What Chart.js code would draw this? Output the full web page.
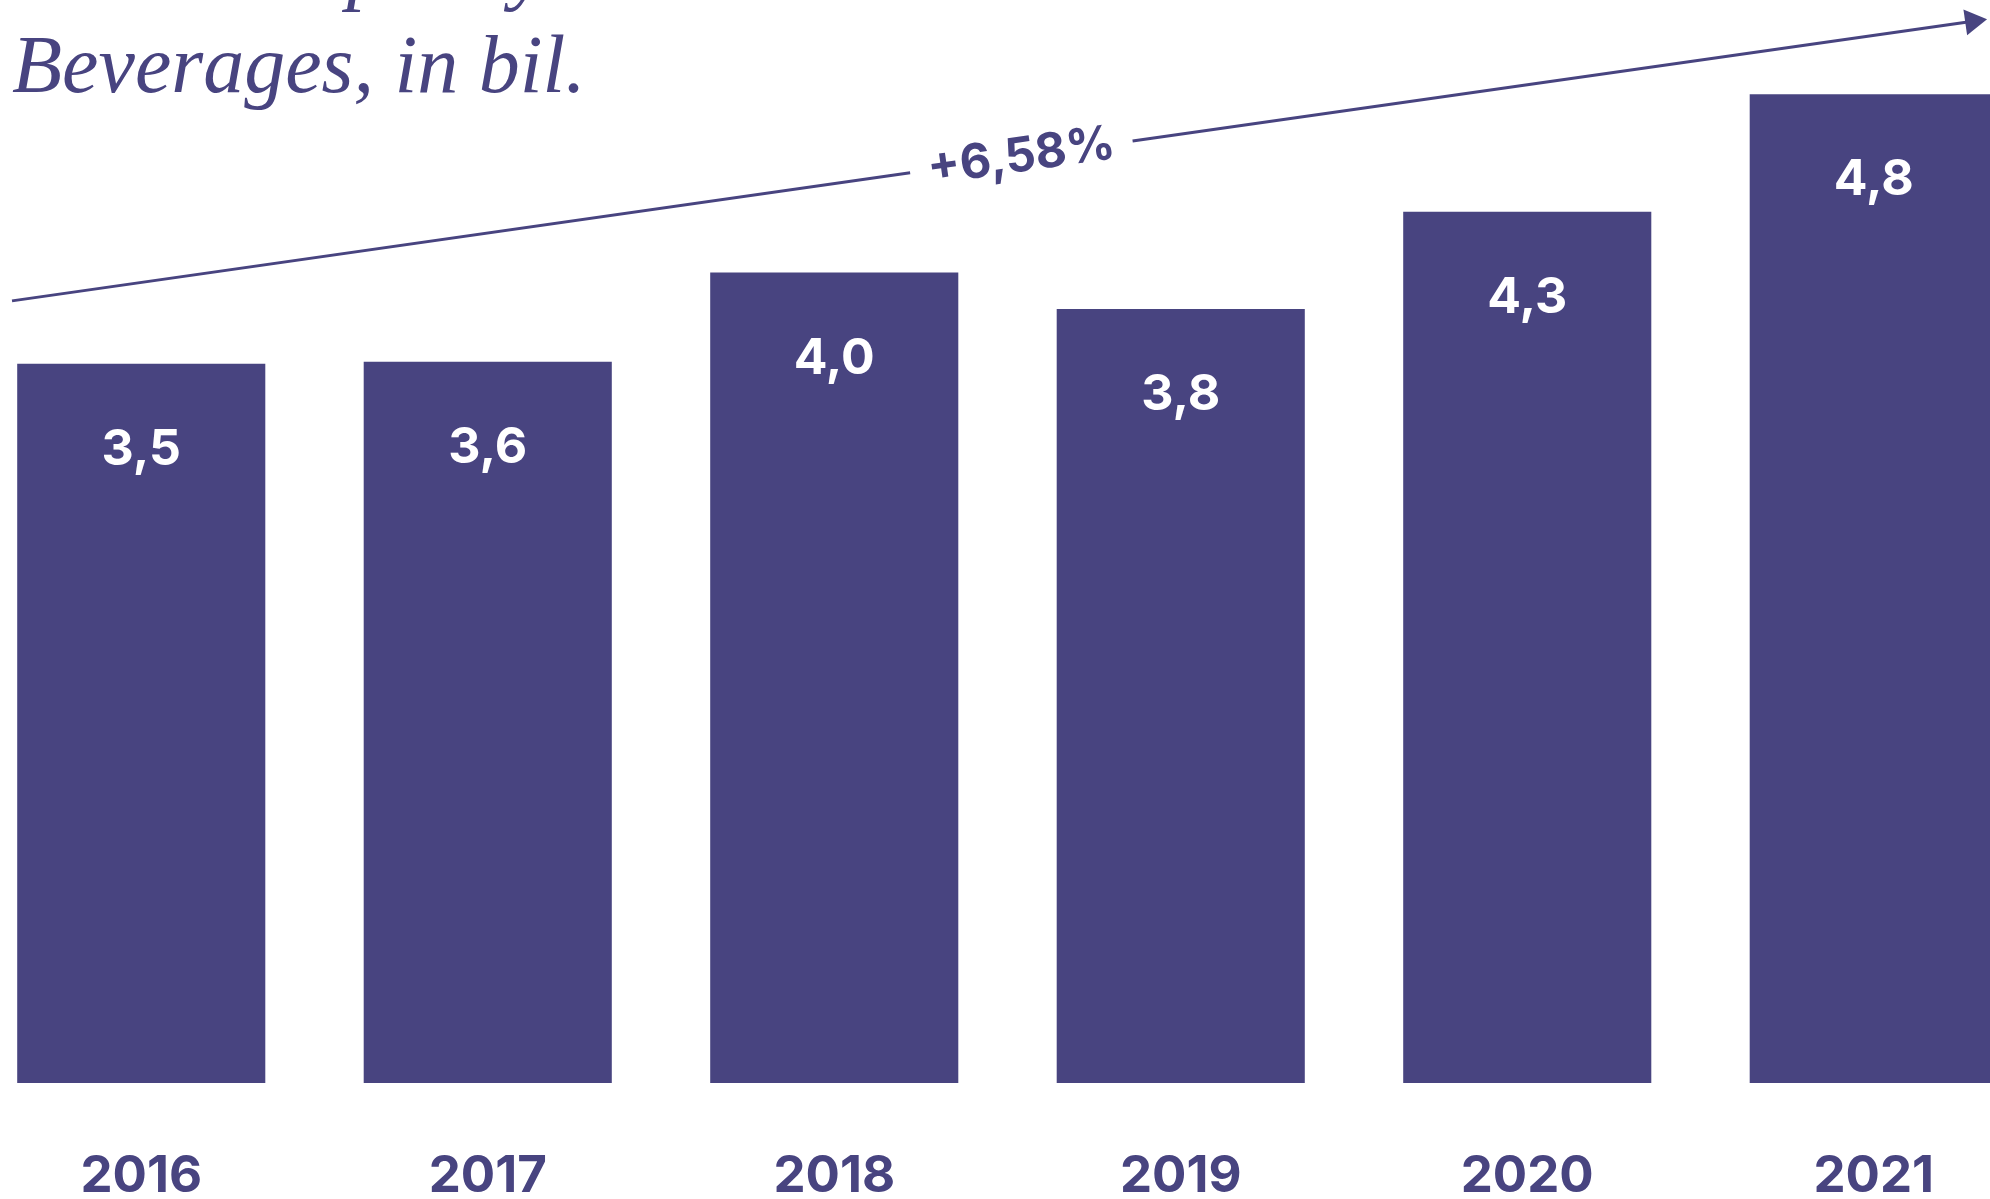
<!DOCTYPE html>
<html lang="en">
<head>
    <meta charset="UTF-8">
    <title>Beverages, in bil.</title>
    <script src="https://cdn.jsdelivr.net/npm/chart.js"></script>
    <style>
        html, body { margin: 0; padding: 0; background: #fff; overflow: hidden; }
        body { width: 1990px; height: 1199px; position: relative; }
        .title {
            position: absolute; left: 12px; white-space: nowrap;
            font-family: "Liberation Serif", serif; font-style: italic;
            font-size: 82px; line-height: 1; color: #484480;
        }
        #chartBox { position: absolute; left: -32px; top: 0; width: 2079px; height: 1270px; }
    </style>
</head>
<body>
    <div class="title" style="top:-74px">Market capacity</div>
    <div class="title" style="top:24px">Beverages, in bil.</div>
    <div id="chartBox"><canvas id="bevChart"></canvas></div>

    <script>
        const years = ['2016', '2017', '2018', '2019', '2020', '2021'];
        // bar heights as drawn (labels are the rounded figures)
        const capacity = [3.55, 3.56, 4.0, 3.82, 4.3, 4.88];
        const valueLabels = ['3,5', '3,6', '4,0', '3,8', '4,3', '4,8'];
        const growthLabel = '+6,58%';

        // trend arrow, in axis units: [category index, value]
        const trendFrom = [-0.373, 3.86];
        const trendTo = [5.327, 5.25];
        const trendLabelAt = 2.54;

        const purple = '#484480';

        // white value labels inside the top of each bar
        const barLabels = {
            id: 'barLabels',
            afterDatasetsDraw(chart) {
                const ctx = chart.ctx;
                const meta = chart.getDatasetMeta(0);
                ctx.save();
                ctx.fillStyle = '#fff';
                ctx.font = '700 50px Inter';
                ctx.textAlign = 'center';
                ctx.textBaseline = 'middle';
                meta.data.forEach((bar, i) => ctx.fillText(valueLabels[i], bar.x, bar.y + 86));
                ctx.restore();
            }
        };

        // growth arrow with the label sitting in a gap of the line
        const trendArrow = {
            id: 'trendArrow',
            afterDraw(chart) {
                const xs = chart.scales.x, ys = chart.scales.y, ctx = chart.ctx;
                const x0 = xs.getPixelForValue(trendFrom[0]), y0 = ys.getPixelForValue(trendFrom[1]);
                const x1 = xs.getPixelForValue(trendTo[0]), y1 = ys.getPixelForValue(trendTo[1]);
                const ang = Math.atan2(y1 - y0, x1 - x0);
                const len = Math.hypot(x1 - x0, y1 - y0);
                const d = (xs.getPixelForValue(trendLabelAt) - x0) / (x1 - x0) * len;

                ctx.save();
                ctx.translate(x0, y0);
                ctx.rotate(ang);
                ctx.font = '700 48px Inter';
                const half = ctx.measureText(growthLabel).width / 2 + 18;
                ctx.strokeStyle = purple;
                ctx.lineWidth = 3;
                ctx.beginPath();
                ctx.moveTo(0, 0);
                ctx.lineTo(d - half, 0);
                ctx.moveTo(d + half, 0);
                ctx.lineTo(len - 16, 0);
                ctx.stroke();

                ctx.fillStyle = purple;
                ctx.beginPath();
                ctx.moveTo(len, 0);
                ctx.lineTo(len - 22, -13);
                ctx.lineTo(len - 22, 13);
                ctx.closePath();
                ctx.fill();

                ctx.textAlign = 'center';
                ctx.textBaseline = 'middle';
                ctx.fillText(growthLabel, d, 0);
                ctx.restore();
            }
        };

        new Chart(document.getElementById('bevChart'), {
            type: 'bar',
            data: {
                labels: years,
                datasets: [{
                    data: capacity,
                    backgroundColor: purple,
                    barPercentage: 0.716,
                    categoryPercentage: 1
                }]
            },
            options: {
                responsive: true,
                maintainAspectRatio: false,
                animation: false,
                layout: { padding: { top: 3, bottom: 0, left: 0, right: 0 } },
                plugins: {
                    legend: { display: false },
                    tooltip: { enabled: false }
                },
                scales: {
                    x: {
                        grid: { display: false, drawTicks: false },
                        border: { display: false },
                        ticks: {
                            color: purple,
                            font: { family: 'Inter', size: 51, weight: '700', lineHeight: 1 },
                            padding: 68,
                            maxRotation: 0,
                            autoSkip: false
                        }
                    },
                    y: { display: false, min: 0, max: 5.33 }
                }
            },
            plugins: [barLabels, trendArrow]
        });
    </script>
</body>
</html>
